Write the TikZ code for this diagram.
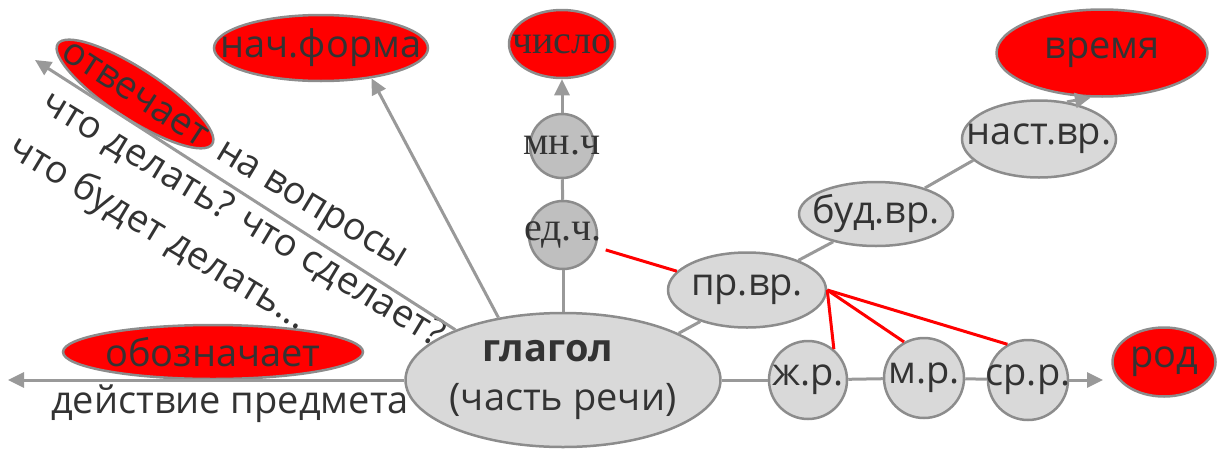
\documentclass[tikz,border=0pt]{standalone}
\usepackage{fontspec}
\setmainfont{Open Sans}
\newfontfamily\antikva{Liberation Serif}
\usepackage{tikz}
\usetikzlibrary{shapes.geometric,arrows.meta}

\definecolor{skrift}{HTML}{333333}
\definecolor{kant}{HTML}{8C8C8C}
\definecolor{strek}{HTML}{999999}
\definecolor{lysgraa}{HTML}{D9D9D9}
\definecolor{mellomgraa}{HTML}{BFBFBF}

\begin{document}
\begin{tikzpicture}[x=1pt, y=-1pt, text=skrift,
    font=\fontsize{38}{46}\selectfont,
    rod/.style={ellipse, draw=kant, line width=2.5pt, fill=red, inner sep=0pt},
    graa/.style={ellipse, draw=kant, line width=2.5pt, fill=lysgraa, inner sep=0pt},
    tallsirkel/.style={circle, draw=kant, line width=2.5pt, fill=mellomgraa, inner sep=0pt,
      font=\antikva\fontsize{40}{46}\selectfont},
    kjonnsirkel/.style={circle, draw=kant, line width=2.5pt, fill=lysgraa, inner sep=0pt},
    linje/.style={draw=strek, line width=3pt},
    pil/.style={linje, -{Triangle[length=16pt, width=15pt]}},
    rodlinje/.style={draw=red, line width=3pt}]
           \useasboundingbox (0,0) rectangle (1217,450);

           % Verbet
           \node[graa, minimum width=312pt, minimum height=134pt, align=center, inner sep=-2pt,
             font=\fontsize{38}{49}\selectfont] (verb) at (563,380) {\textbf{глагол}\hspace*{30pt}\\(часть речи)};

           % Venstre side
           \node[rod, minimum width=300pt, minimum height=54pt] (betyr) at (213,352) {\makebox[0pt]{обозначает}};
           \node (handling) at (230,404) {действие предмета};
           \node[rod, rotate=-33, minimum width=184pt, minimum height=50pt] (svar) at (135,94) {\makebox[0pt]{отвечает}};
           \node[rotate=-31] (vopr) at (310,208) {на вопросы};
           \node[rotate=-31] (sporsmal1) at (243,220) {что делать? что сделает?};
           \node[rotate=-31] (sporsmal2) at (158,234) {что будет делать...};
           \node[rod, minimum width=214pt, minimum height=66pt] (form) at (321,48) {\makebox[0pt]{нач.форма}};

           % Tall
           \node[tallsirkel, minimum size=68pt] (ent) at (563,235) {\makebox[0pt]{ед.ч.}};
           \node[tallsirkel, minimum size=64pt] (fler) at (562,146) {\makebox[0pt]{мн.ч}};
           \node[rod, minimum width=106pt, minimum height=68pt,
             font=\antikva\fontsize{40}{46}\selectfont] (antall) at (562,44) {\makebox[0pt]{число}};

           % Tid
           \node[graa, minimum width=158pt, minimum height=75pt] (fort) at (747,290) {\makebox[0pt]{пр.вр.}};
           \node[graa, minimum width=154pt, minimum height=64pt] (fram) at (876,214) {\makebox[0pt]{буд.вр.}};
           \node[graa, minimum width=154pt, minimum height=77pt] (naa) at (1039,139) {\makebox[0pt]{наст.вр.}};
           \node[rod, minimum width=211pt, minimum height=87pt] (tid) at (1102,53) {\makebox[0pt]{время}};

           % Kjonn
           \node[kjonnsirkel, minimum size=78pt] (hun) at (808,380) {\makebox[0pt]{ж.р.}};
           \node[kjonnsirkel, minimum size=80pt] (hank) at (924,378) {\makebox[0pt]{м.р.}};
           \node[kjonnsirkel, minimum size=80pt] (intet) at (1028,380) {\makebox[0pt]{ср.р.}};
           \node[rod, minimum width=103pt, minimum height=69pt] (kjonn) at (1164,362) {\makebox[0pt]{род}};

           % Piler og streker
           \coordinate (spiss1) at (35,60);
           \coordinate (spiss2) at (8,380);
           \coordinate (spiss3) at (1103,380);
           \draw[pil] (verb.155) -- (spiss1);
           \draw[pil] (verb.136) -- (form.-31);
           \draw[pil] (verb.west) -- (spiss2);
           \draw[linje] (verb.north) -- (ent);
           \draw[linje] (ent) -- (fler);
           \draw[pil] (fler) -- (antall);
           \draw[rodlinje, shorten <=10pt] (ent.-20) -- (fort.165);
           \draw[linje] (verb.22) -- (fort.214);
           \draw[linje] (fort.30) -- (fram.213);
           \draw[linje] (fram.28) -- (naa.198);
           \draw[pil] (naa.53) -- (tid.256);
           \draw[linje] (verb.east) -- (hun);
           \draw[linje] (hun) -- (hank);
           \draw[linje] (hank) -- (intet);
           \draw[pil] (intet) -- (spiss3);
           \draw[rodlinje] (fort.east) -- (hun.50);
           \draw[rodlinje] (fort.east) -- (hank.119);
           \draw[rodlinje] (fort.east) -- (intet.120);

         \end{tikzpicture}
\end{document}
